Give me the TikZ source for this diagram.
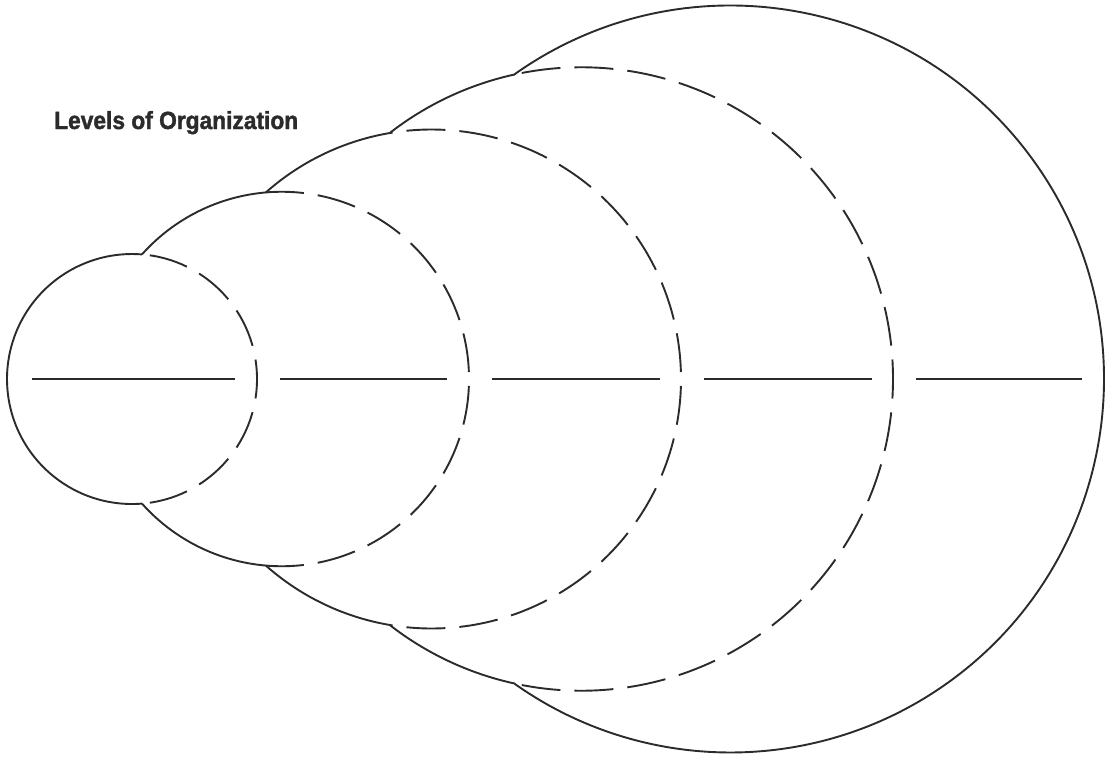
\documentclass[tikz,border=0pt]{standalone}
\usepackage{graphicx}
\usepackage{fontspec}
\setmainfont{Liberation Sans}
\newfontfamily\titlefont{Liberation Sans}[BoldFeatures={FakeBold=1.6}]
\definecolor{ink}{HTML}{2B2B2B}
\begin{document}
\begin{tikzpicture}[x=1pt,y=-1pt,
  solidarc/.style={draw=ink, line width=1.9pt},
  dasharc/.style={draw=ink, line width=1.9pt, dash pattern=on 39pt off 14pt},
  axisline/.style={draw=ink, line width=1.9pt},
  titletext/.style={anchor=base west, inner sep=0pt, text=ink}]
\useasboundingbox (0,0) rectangle (1105,760);
\coordinate (c1) at (132,379);
\coordinate (c2) at (281.75,379);
\coordinate (c3) at (431.5,379);
\coordinate (c4) at (581.25,379);
\coordinate (c5) at (730.5,379);
% circle 1
\draw[solidarc] (c1) ++(85.42:125) arc[start angle=85.42, end angle=274.58, radius=125];
\draw[dasharc, dash phase=19.5pt] (c1) ++(0:125) arc[start angle=0, end angle=85.42, radius=125];
\draw[dasharc, dash phase=19.5pt] (c1) ++(0:125) arc[start angle=0, end angle=-85.42, radius=125];
% circle 2
\draw[solidarc] (c2) ++(94.87:187.25) arc[start angle=94.87, end angle=138.29, radius=187.25];
\draw[solidarc] (c2) ++(-94.87:187.25) arc[start angle=-94.87, end angle=-138.29, radius=187.25];
\draw[dasharc, dash phase=46pt] (c2) ++(0:187.25) arc[start angle=0, end angle=94.87, radius=187.25];
\draw[dasharc, dash phase=46pt] (c2) ++(0:187.25) arc[start angle=0, end angle=-94.87, radius=187.25];
% circle 3
\draw[solidarc] (c3) ++(99.64:249.5) arc[start angle=99.64, end angle=131.60, radius=249.5];
\draw[solidarc] (c3) ++(-99.64:249.5) arc[start angle=-99.64, end angle=-131.60, radius=249.5];
\draw[dasharc, dash phase=46pt] (c3) ++(0:249.5) arc[start angle=0, end angle=99.64, radius=249.5];
\draw[dasharc, dash phase=46pt] (c3) ++(0:249.5) arc[start angle=0, end angle=-99.64, radius=249.5];
% circle 4
\draw[solidarc] (c4) ++(102.53:311.75) arc[start angle=102.53, end angle=127.91, radius=311.75];
\draw[solidarc] (c4) ++(-102.53:311.75) arc[start angle=-102.53, end angle=-127.91, radius=311.75];
\draw[dasharc, dash phase=19.5pt] (c4) ++(0:311.75) arc[start angle=0, end angle=102.53, radius=311.75];
\draw[dasharc, dash phase=19.5pt] (c4) ++(0:311.75) arc[start angle=0, end angle=-102.53, radius=311.75];
% circle 5
\draw[solidarc] (c5) ++(-125.54:373.5) arc[start angle=-125.54, end angle=125.54, radius=373.5];
% horizontal lines
\coordinate (h1a) at (32,379);  \coordinate (h1b) at (235,379);
\coordinate (h2a) at (280,379); \coordinate (h2b) at (447,379);
\coordinate (h3a) at (492,379); \coordinate (h3b) at (660,379);
\coordinate (h4a) at (704,379); \coordinate (h4b) at (872,379);
\coordinate (h5a) at (916,379); \coordinate (h5b) at (1082,379);
\draw[axisline] (h1a) -- (h1b);
\draw[axisline] (h2a) -- (h2b);
\draw[axisline] (h3a) -- (h3b);
\draw[axisline] (h4a) -- (h4b);
\draw[axisline] (h5a) -- (h5b);
% title
\node[titletext] (title) at (54,129) {\resizebox{244pt}{18pt}{\titlefont\bfseries Levels of Organization}};
\end{tikzpicture}
\end{document}
